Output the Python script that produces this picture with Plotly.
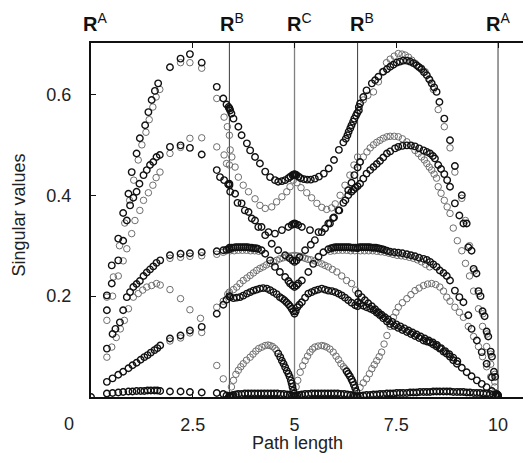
import plotly.graph_objects as go

# ---------------- data ----------------
# high-symmetry points on the path
sym_x = [0.0, 3.40, 5.00, 6.55, 10.0]
sym_lab = ["A", "B", "C", "B", "A"]
sym_lab_x = [0.10, 3.46, 5.12, 6.65, 9.99]
xtick_vals = [2.5, 5, 7.5, 10]
xtick_text = ["2.5", "5", "7.5", "10"]
ytick_vals = [0.2, 0.4, 0.6]
ytick_text = ["0.2", "0.4", "0.6"]

# ---- segment A -> B ----
a_zero_x = [0.00, 0.39, 0.53, 0.67, 0.79, 0.92, 1.02, 1.12, 1.22, 1.31, 1.39, 1.47, 1.56, 1.63, 1.70, 1.94, 2.20, 2.43, 2.72, 3.09, 3.25, 3.33, 3.40]
a_zero_y = [0.000, 0.007, 0.008, 0.009, 0.010, 0.011, 0.011, 0.012, 0.012, 0.012, 0.013, 0.013, 0.013, 0.013, 0.012, 0.011, 0.011, 0.010, 0.009, 0.008, 0.006, 0.003, 0.001]
a_lin_x = [0.39, 0.53, 0.67, 0.79, 0.92, 1.02, 1.12, 1.22, 1.31, 1.39, 1.47, 1.56, 1.63, 1.70, 1.94, 2.20, 2.43, 2.72, 3.09, 3.25, 3.33, 3.40]
a_lin_y = [0.030, 0.037, 0.044, 0.050, 0.057, 0.063, 0.068, 0.074, 0.079, 0.083, 0.088, 0.093, 0.097, 0.102, 0.116, 0.122, 0.132, 0.139, 0.165, 0.183, 0.193, 0.200]
a_lin_g_x = [1.94, 2.20, 2.43, 2.72, 3.09, 3.25, 3.36]
a_lin_g_y = [0.111, 0.117, 0.127, 0.128, 0.178, 0.190, 0.204]
a_mid_x = [0.39, 0.53, 0.60, 0.71, 0.79, 0.88, 0.96, 1.04, 1.12, 1.20, 1.29, 1.37, 1.45, 1.53, 1.61, 1.70, 1.94, 2.20, 2.43, 2.72, 3.09, 3.25, 3.33, 3.40]
a_mid_y = [0.096, 0.125, 0.135, 0.148, 0.172, 0.198, 0.208, 0.218, 0.224, 0.230, 0.240, 0.247, 0.253, 0.259, 0.266, 0.271, 0.281, 0.284, 0.285, 0.287, 0.289, 0.291, 0.292, 0.293]
a_flat_g_x = [1.94, 2.20, 2.43, 2.72, 3.09, 3.25, 3.33]
a_flat_g_y = [0.275, 0.277, 0.279, 0.280, 0.283, 0.287, 0.290]
a_mid_g_x = [0.39, 0.51, 0.62, 0.72, 0.82, 0.92, 1.04, 1.16, 1.27, 1.37, 1.49, 1.61, 1.70, 1.94, 2.20, 2.43, 2.69, 3.09, 3.25, 3.40]
a_mid_g_y = [0.079, 0.099, 0.118, 0.135, 0.152, 0.175, 0.198, 0.205, 0.212, 0.218, 0.221, 0.225, 0.222, 0.213, 0.195, 0.173, 0.156, 0.0625, 0.036, 0.002]
a_t1_x = [0.39, 0.51, 0.67, 0.79, 0.92, 1.00, 1.12, 1.20, 1.33, 1.41, 1.49, 1.57, 1.65, 1.94, 2.20, 2.43, 2.72, 3.09, 3.25, 3.33, 3.38, 3.40]
a_t1_y = [0.2015, 0.261, 0.314, 0.365, 0.403, 0.446, 0.483, 0.513, 0.539, 0.565, 0.589, 0.607, 0.622, 0.654, 0.671, 0.680, 0.663, 0.615, 0.592, 0.580, 0.575, 0.572]
a_t1_g_x = [0.39, 0.55, 0.70, 0.83, 0.95, 1.05, 1.16, 1.25, 1.35, 1.43, 1.52, 1.60, 1.69, 2.20, 2.43, 2.72, 3.09, 3.27, 3.35, 3.40]
a_t1_g_y = [0.198, 0.238, 0.300, 0.345, 0.390, 0.430, 0.470, 0.500, 0.525, 0.550, 0.575, 0.595, 0.610, 0.663, 0.663, 0.652, 0.592, 0.555, 0.536, 0.519]
a_t2_x = [0.39, 0.51, 0.67, 0.79, 0.88, 0.96, 1.04, 1.12, 1.19, 1.29, 1.37, 1.45, 1.53, 1.61, 1.69, 1.94, 2.20, 2.43, 2.72, 3.09, 3.17, 3.27, 3.37, 3.40]
a_t2_y = [0.172, 0.225, 0.271, 0.310, 0.350, 0.380, 0.395, 0.407, 0.423, 0.440, 0.450, 0.460, 0.466, 0.476, 0.480, 0.496, 0.499, 0.494, 0.481, 0.450, 0.436, 0.430, 0.422, 0.420]
a_t2_g_x = [0.39, 0.53, 0.67, 0.79, 0.88, 1.00, 1.08, 1.20, 1.29, 1.41, 1.52, 1.60, 1.695, 1.94, 2.20, 2.43, 2.72, 3.09, 3.27, 3.33, 3.40]
a_t2_g_y = [0.152, 0.200, 0.240, 0.270, 0.294, 0.324, 0.350, 0.370, 0.390, 0.405, 0.420, 0.435, 0.446, 0.483, 0.495, 0.513, 0.514, 0.496, 0.480, 0.463, 0.460]

# ---- segment B -> C -> B ----
m1_x = [3.40, 3.42, 3.45, 3.50, 3.62, 3.70, 3.83, 3.91, 4.03, 4.15, 4.28, 4.40, 4.52, 4.60, 4.69, 4.77, 4.85, 4.90, 4.95, 4.98, 5.00, 5.02, 5.05, 5.10, 5.15, 5.23, 5.31, 5.40, 5.50, 5.60, 5.72, 5.84, 5.97, 6.09, 6.20, 6.26, 6.30, 6.33, 6.37, 6.40, 6.44, 6.47, 6.51, 6.54, 6.58]
m1_y = [0.572, 0.568, 0.562, 0.552, 0.536, 0.519, 0.503, 0.489, 0.476, 0.463, 0.447, 0.436, 0.430, 0.427, 0.428, 0.430, 0.434, 0.437, 0.440, 0.441, 0.442, 0.441, 0.440, 0.437, 0.434, 0.432, 0.431, 0.431, 0.433, 0.437, 0.443, 0.453, 0.470, 0.490, 0.505, 0.512, 0.519, 0.526, 0.533, 0.539, 0.546, 0.552, 0.558, 0.563, 0.568]
m2_x = [3.40, 3.54, 3.70, 3.87, 4.03, 4.19, 4.36, 4.52, 4.69, 4.85, 4.93, 4.97, 5.00, 5.03, 5.09, 5.18, 5.38, 5.59, 5.75, 5.87, 5.97, 6.08, 6.20, 6.32, 6.40, 6.45, 6.50, 6.55]
m2_y = [0.423, 0.403, 0.384, 0.367, 0.350, 0.337, 0.327, 0.324, 0.331, 0.337, 0.341, 0.343, 0.344, 0.343, 0.341, 0.337, 0.331, 0.327, 0.334, 0.344, 0.356, 0.370, 0.385, 0.400, 0.407, 0.411, 0.415, 0.418]
m3_x = [3.42, 3.46, 3.54, 3.62, 3.74, 3.87, 4.03, 4.15, 4.28, 4.44, 4.56, 4.69, 4.81, 4.89, 4.97, 5.06, 5.16, 5.30, 5.42, 5.55, 5.67, 5.79, 5.91, 6.00, 6.12, 6.24, 6.36, 6.46, 6.55]
m3_y = [0.490, 0.476, 0.456, 0.436, 0.420, 0.407, 0.393, 0.380, 0.374, 0.377, 0.387, 0.397, 0.407, 0.417, 0.430, 0.425, 0.415, 0.405, 0.395, 0.384, 0.376, 0.372, 0.375, 0.383, 0.400, 0.420, 0.440, 0.460, 0.476]
m4_x = [3.42, 3.60, 3.78, 3.95, 4.11, 4.28, 4.44, 4.60, 4.77, 4.88, 4.95, 5.00, 5.05, 5.12, 5.26, 5.40, 5.50, 5.67, 5.83, 5.95, 6.10, 6.25, 6.32, 6.40, 6.47, 6.55, 6.61]
m4_y = [0.407, 0.385, 0.370, 0.354, 0.337, 0.321, 0.304, 0.291, 0.281, 0.275, 0.271, 0.268, 0.271, 0.277, 0.291, 0.302, 0.311, 0.327, 0.344, 0.355, 0.370, 0.390, 0.410, 0.425, 0.440, 0.455, 0.466]
m5_x = [3.40, 3.45, 3.50, 3.55, 3.60, 3.65, 3.70, 3.75, 3.80, 3.85, 3.90, 3.95, 4.00, 4.05, 4.10, 4.19, 4.28, 4.40, 4.52, 4.64, 4.77, 4.85, 4.89, 4.95, 5.00, 5.05, 5.09, 5.18, 5.34, 5.46, 5.59, 5.71, 5.83, 5.90, 5.95, 6.00, 6.05, 6.10, 6.15, 6.20, 6.25, 6.30, 6.35, 6.40, 6.45, 6.50, 6.55]
m5_y = [0.296, 0.296, 0.296, 0.297, 0.297, 0.297, 0.297, 0.297, 0.297, 0.297, 0.296, 0.296, 0.295, 0.295, 0.294, 0.291, 0.284, 0.271, 0.258, 0.248, 0.238, 0.230, 0.225, 0.221, 0.218, 0.221, 0.225, 0.231, 0.248, 0.264, 0.278, 0.287, 0.293, 0.295, 0.296, 0.297, 0.297, 0.297, 0.297, 0.297, 0.297, 0.297, 0.297, 0.296, 0.296, 0.296, 0.295]
m5_g_x = [3.42, 3.52, 3.62, 3.72, 3.82, 3.92, 4.02, 4.12, 5.88, 5.98, 6.08, 6.18, 6.28, 6.38, 6.48]
m5_g_y = [0.290, 0.290, 0.291, 0.291, 0.291, 0.290, 0.290, 0.289, 0.289, 0.290, 0.291, 0.291, 0.291, 0.290, 0.290]
m6_x = [3.40, 3.50, 3.58, 3.66, 3.74, 3.83, 3.91, 3.99, 4.07, 4.15, 4.23, 4.31, 4.40, 4.48, 4.56, 4.64, 4.72, 4.80, 4.86, 4.93, 5.00, 5.07, 5.14, 5.20, 5.26, 5.33, 5.40, 5.50, 5.58, 5.67, 5.75, 5.83, 5.93, 6.04, 6.16, 6.28, 6.40, 6.50, 6.57]
m6_y = [0.208, 0.213, 0.218, 0.225, 0.231, 0.236, 0.241, 0.246, 0.251, 0.255, 0.258, 0.262, 0.265, 0.268, 0.271, 0.274, 0.276, 0.278, 0.279, 0.280, 0.281, 0.280, 0.279, 0.277, 0.275, 0.273, 0.272, 0.270, 0.267, 0.264, 0.261, 0.258, 0.253, 0.248, 0.240, 0.231, 0.225, 0.212, 0.205]
m7_x = [3.42, 3.50, 3.58, 3.66, 3.74, 3.83, 3.91, 3.99, 4.07, 4.15, 4.23, 4.32, 4.40, 4.48, 4.56, 4.64, 4.70, 4.75, 4.80, 4.85, 4.89, 4.93, 4.97, 5.00, 5.03, 5.07, 5.12, 5.18, 5.26, 5.34, 5.42, 5.50, 5.58, 5.67, 5.75, 5.83, 5.92, 6.00, 6.08, 6.16, 6.24, 6.32, 6.40, 6.49, 6.55]
m7_y = [0.198, 0.196, 0.197, 0.198, 0.201, 0.205, 0.208, 0.211, 0.213, 0.215, 0.216, 0.215, 0.212, 0.208, 0.204, 0.198, 0.195, 0.192, 0.188, 0.184, 0.180, 0.175, 0.170, 0.165, 0.170, 0.178, 0.183, 0.188, 0.197, 0.205, 0.208, 0.211, 0.213, 0.215, 0.213, 0.211, 0.210, 0.208, 0.205, 0.2015, 0.197, 0.192, 0.187, 0.182, 0.180]
m8l_x = [3.45, 3.50, 3.56, 3.62, 3.68, 3.74, 3.82, 3.91, 3.98, 4.05, 4.12, 4.20, 4.28, 4.35, 4.40, 4.46, 4.52, 4.56, 4.60, 4.65, 4.69, 4.73, 4.77, 4.81, 4.85, 4.88, 4.91, 4.93, 4.95, 4.97, 4.99]
m8l_y = [0.020, 0.033, 0.045, 0.053, 0.060, 0.066, 0.073, 0.079, 0.085, 0.091, 0.096, 0.099, 0.102, 0.103, 0.102, 0.100, 0.096, 0.092, 0.086, 0.079, 0.072, 0.066, 0.059, 0.052, 0.046, 0.040, 0.033, 0.027, 0.020, 0.013, 0.007]
m8r_x = [5.04, 5.08, 5.14, 5.20, 5.26, 5.32, 5.38, 5.44, 5.50, 5.58, 5.67, 5.73, 5.79, 5.87, 5.95, 6.02, 6.08, 6.14, 6.20, 6.24, 6.28, 6.32, 6.36, 6.40, 6.43, 6.46, 6.49, 6.52]
m8r_y = [0.020, 0.033, 0.049, 0.062, 0.072, 0.081, 0.089, 0.095, 0.099, 0.101, 0.102, 0.101, 0.099, 0.095, 0.089, 0.081, 0.074, 0.066, 0.060, 0.056, 0.051, 0.046, 0.041, 0.035, 0.030, 0.024, 0.018, 0.011]
m_zero_x = [3.40, 3.43, 3.46, 3.50, 3.56, 3.62, 3.70, 3.78, 3.86, 3.94, 4.02, 4.10, 4.18, 4.26, 4.34, 4.42, 4.50, 4.58, 4.66, 4.74, 4.82, 4.88, 4.93, 4.97, 5.00, 5.03, 5.07, 5.12, 5.18, 5.26, 5.34, 5.42, 5.50, 5.58, 5.66, 5.74, 5.82, 5.90, 5.98, 6.06, 6.14, 6.22, 6.30, 6.38, 6.44, 6.48, 6.52, 6.55]
m_zero_y = [0.001, 0.002, 0.003, 0.004, 0.005, 0.006, 0.006, 0.007, 0.007, 0.007, 0.007, 0.007, 0.007, 0.007, 0.007, 0.007, 0.007, 0.007, 0.006, 0.006, 0.005, 0.004, 0.003, 0.002, 0.001, 0.002, 0.003, 0.004, 0.005, 0.006, 0.006, 0.007, 0.007, 0.007, 0.007, 0.007, 0.007, 0.007, 0.007, 0.007, 0.006, 0.006, 0.005, 0.004, 0.003, 0.002, 0.001, 0.001]

# ---- segment B -> A ----
r_top_x = [6.58, 6.61, 6.69, 6.77, 6.90, 6.98, 7.06, 7.18, 7.27, 7.35, 7.43, 7.51, 7.59, 7.67, 7.76, 7.84, 7.92, 8.00, 8.06, 8.12, 8.18, 8.25, 8.31, 8.37, 8.43, 8.49, 8.56, 8.68, 8.82, 8.94, 9.11, 9.23, 9.35, 9.47, 9.57, 9.67, 9.76, 9.85, 9.93, 10.0]
r_top_y = [0.575, 0.582, 0.595, 0.608, 0.622, 0.628, 0.635, 0.645, 0.650, 0.655, 0.659, 0.663, 0.665, 0.667, 0.667, 0.665, 0.662, 0.658, 0.654, 0.650, 0.644, 0.638, 0.630, 0.622, 0.614, 0.605, 0.585, 0.552, 0.509, 0.458, 0.400, 0.344, 0.290, 0.245, 0.200, 0.160, 0.120, 0.080, 0.040, 0.002]
r_top_g_x = [6.69, 6.80, 6.94, 7.06, 7.16, 7.26, 7.35, 7.45, 7.55, 7.64, 7.72, 7.80, 7.88, 7.96, 8.04, 8.12, 8.21, 8.33, 8.41, 8.53, 8.68, 8.82, 8.94, 9.11, 9.20, 9.30, 9.42, 9.53, 9.63, 9.73, 9.82, 9.92]
r_top_g_y = [0.589, 0.598, 0.605, 0.625, 0.645, 0.663, 0.670, 0.676, 0.681, 0.680, 0.678, 0.674, 0.668, 0.662, 0.655, 0.652, 0.645, 0.628, 0.610, 0.570, 0.536, 0.494, 0.446, 0.394, 0.350, 0.300, 0.250, 0.205, 0.165, 0.125, 0.085, 0.045]
r_arc2_x = [6.61, 6.69, 6.77, 6.86, 6.94, 7.02, 7.10, 7.18, 7.27, 7.35, 7.47, 7.55, 7.65, 7.76, 7.86, 7.96, 8.06, 8.17, 8.25, 8.33, 8.40, 8.45, 8.53, 8.60, 8.68, 8.75, 8.82, 8.94, 9.05, 9.15, 9.27, 9.40, 9.52, 9.62, 9.72, 9.82, 9.90, 10.0]
r_arc2_y = [0.423, 0.433, 0.443, 0.450, 0.456, 0.462, 0.468, 0.475, 0.483, 0.487, 0.493, 0.496, 0.498, 0.499, 0.499, 0.497, 0.493, 0.489, 0.486, 0.483, 0.478, 0.473, 0.460, 0.452, 0.442, 0.430, 0.417, 0.384, 0.360, 0.344, 0.297, 0.254, 0.210, 0.170, 0.130, 0.090, 0.050, 0.004]
r_arc2_g_x = [6.61, 6.69, 6.78, 6.86, 6.94, 7.02, 7.10, 7.18, 7.27, 7.35, 7.45, 7.55, 7.65, 7.76, 7.86, 7.96, 8.04, 8.12, 8.19, 8.25, 8.31, 8.37, 8.43, 8.49, 8.53, 8.60, 8.68, 8.75, 8.82, 8.90, 9.00, 9.11, 9.20, 9.30, 9.40, 9.52, 9.62, 9.72, 9.82, 9.92]
r_arc2_g_y = [0.466, 0.476, 0.486, 0.494, 0.500, 0.505, 0.509, 0.513, 0.516, 0.517, 0.517, 0.516, 0.512, 0.506, 0.498, 0.489, 0.483, 0.476, 0.470, 0.463, 0.456, 0.450, 0.442, 0.434, 0.417, 0.404, 0.390, 0.377, 0.364, 0.335, 0.310, 0.290, 0.265, 0.240, 0.210, 0.175, 0.140, 0.100, 0.065, 0.030]
r_flat_x = [6.55, 6.60, 6.65, 6.70, 6.75, 6.80, 6.85, 6.90, 6.95, 7.00, 7.05, 7.10, 7.15, 7.20, 7.27, 7.35, 7.45, 7.55, 7.65, 7.76, 7.86, 7.96, 8.06, 8.17, 8.25, 8.33, 8.41, 8.49, 8.57, 8.66, 8.74, 8.82, 8.94, 9.05, 9.15, 9.27, 9.35, 9.48, 9.60, 9.72, 9.85, 9.97]
r_flat_y = [0.296, 0.297, 0.297, 0.297, 0.297, 0.297, 0.297, 0.296, 0.296, 0.296, 0.295, 0.294, 0.293, 0.292, 0.290, 0.288, 0.287, 0.286, 0.285, 0.283, 0.281, 0.279, 0.276, 0.274, 0.272, 0.268, 0.263, 0.258, 0.251, 0.246, 0.240, 0.231, 0.211, 0.198, 0.188, 0.162, 0.135, 0.112, 0.089, 0.066, 0.039, 0.006]
r_flat_g_x = [6.62, 6.72, 6.82, 6.92, 7.02, 7.12, 7.22, 7.32, 7.42, 7.52, 7.62, 7.72, 7.82, 7.92, 8.02, 8.12, 8.22, 8.32]
r_flat_g_y = [0.290, 0.290, 0.290, 0.290, 0.289, 0.288, 0.287, 0.285, 0.283, 0.281, 0.280, 0.279, 0.277, 0.275, 0.272, 0.268, 0.263, 0.258]
r_lin_x = [6.55, 6.61, 6.69, 6.77, 6.86, 6.94, 7.02, 7.10, 7.18, 7.27, 7.35, 7.45, 7.55, 7.65, 7.76, 7.86, 7.96, 8.06, 8.17, 8.25, 8.33, 8.41, 8.49, 8.57, 8.66, 8.74, 8.82, 8.90, 8.99, 9.11, 9.23, 9.35, 9.48, 9.60, 9.72, 9.85, 9.97]
r_lin_y = [0.188, 0.185, 0.181, 0.178, 0.175, 0.172, 0.167, 0.162, 0.156, 0.150, 0.145, 0.141, 0.137, 0.133, 0.129, 0.125, 0.121, 0.117, 0.112, 0.110, 0.108, 0.104, 0.100, 0.096, 0.090, 0.086, 0.080, 0.073, 0.066, 0.058, 0.049, 0.041, 0.033, 0.026, 0.0195, 0.012, 0.005]
r_lin2_x = [6.57, 6.65, 6.73, 6.81, 6.90, 6.98, 7.06, 7.14, 7.22, 7.30, 7.40, 7.50, 7.60, 7.70, 7.80, 7.90, 8.00, 8.10, 8.20, 8.30, 8.40, 8.50, 8.60, 8.70, 8.80, 8.90, 9.00]
r_lin2_y = [0.205, 0.198, 0.192, 0.186, 0.180, 0.174, 0.168, 0.163, 0.158, 0.154, 0.149, 0.144, 0.140, 0.136, 0.132, 0.128, 0.124, 0.120, 0.116, 0.112, 0.108, 0.103, 0.097, 0.091, 0.085, 0.078, 0.071]
r_rise_g_x = [6.61, 6.69, 6.77, 6.84, 6.90, 6.96, 7.02, 7.08, 7.14, 7.20, 7.27, 7.35, 7.43, 7.49, 7.55, 7.65, 7.76, 7.86, 7.96, 8.06, 8.17, 8.27, 8.37, 8.47, 8.57, 8.66, 8.74, 8.82, 8.94, 9.05, 9.15, 9.27, 9.40, 9.52, 9.62, 9.72, 9.82, 9.92]
r_rise_g_y = [0.019, 0.028, 0.036, 0.046, 0.056, 0.064, 0.072, 0.080, 0.089, 0.105, 0.122, 0.140, 0.158, 0.168, 0.178, 0.187, 0.195, 0.203, 0.211, 0.216, 0.221, 0.224, 0.225, 0.223, 0.218, 0.210, 0.198, 0.190, 0.178, 0.168, 0.158, 0.140, 0.120, 0.100, 0.080, 0.060, 0.040, 0.020]
r_zero_x = [6.55, 6.61, 6.69, 6.77, 6.86, 6.94, 7.02, 7.10, 7.18, 7.27, 7.35, 7.43, 7.51, 7.59, 7.67, 7.76, 7.84, 7.92, 8.00, 8.08, 8.17, 8.25, 8.33, 8.41, 8.49, 8.57, 8.66, 8.74, 8.82, 8.90, 8.99, 9.07, 9.15, 9.23, 9.31, 9.40, 9.48, 9.56, 9.64, 9.72, 9.80, 9.88, 9.94, 10.0]
r_zero_y = [0.001, 0.002, 0.003, 0.004, 0.004, 0.005, 0.005, 0.006, 0.006, 0.007, 0.007, 0.007, 0.008, 0.008, 0.008, 0.008, 0.009, 0.009, 0.009, 0.010, 0.010, 0.010, 0.010, 0.011, 0.011, 0.011, 0.011, 0.011, 0.011, 0.010, 0.010, 0.010, 0.010, 0.009, 0.009, 0.008, 0.008, 0.008, 0.007, 0.007, 0.006, 0.005, 0.003, 0.001]

dark_sets = [
    (a_zero_x, a_zero_y), (a_lin_x, a_lin_y), (a_mid_x, a_mid_y), (a_t1_x, a_t1_y), (a_t2_x, a_t2_y),
    (m1_x, m1_y), (m2_x, m2_y), (m4_x, m4_y), (m5_x, m5_y), (m7_x, m7_y), (m_zero_x, m_zero_y),
    (m8l_x[18:], m8l_y[18:]), (m8r_x[20:], m8r_y[20:]),
    (r_top_x, r_top_y), (r_arc2_x, r_arc2_y), (r_flat_x, r_flat_y), (r_lin_x, r_lin_y), (r_lin2_x, r_lin2_y), (r_zero_x, r_zero_y),
]
gray_sets = [
    (a_lin_g_x, a_lin_g_y), (a_flat_g_x, a_flat_g_y), (a_mid_g_x, a_mid_g_y), (a_t1_g_x, a_t1_g_y), (a_t2_g_x, a_t2_g_y),
    (m3_x, m3_y), (m5_g_x, m5_g_y), (m6_x, m6_y), (m8l_x[:18], m8l_y[:18]), (m8r_x[:20], m8r_y[:20]),
    (r_top_g_x, r_top_g_y), (r_arc2_g_x, r_arc2_g_y), (r_flat_g_x, r_flat_g_y), (r_rise_g_x, r_rise_g_y),
]

FONT = "Liberation Sans, Arial, sans-serif"

fig = go.Figure()
for xs, ys in gray_sets:
    fig.add_trace(go.Scatter(x=xs, y=ys, mode="markers", showlegend=False, hoverinfo="x+y",
                             marker=dict(symbol="circle-open", size=6.5, color="#6e6e6e", line=dict(width=1.0))))
for xs, ys in dark_sets:
    fig.add_trace(go.Scatter(x=xs, y=ys, mode="markers", showlegend=False, hoverinfo="x+y",
                             marker=dict(symbol="circle-open", size=6.5, color="#111111", line=dict(width=1.4))))

shapes = []
for i, sx in enumerate(sym_x):
    if sx == 0.0:
        continue
    shapes.append(dict(type="line", xref="x", yref="paper", x0=sx, x1=sx, y0=0, y1=1,
                       line=dict(color="#808080" if sym_lab[i] == "C" else "#3a3a3a", width=1.3 if sym_lab[i] == "C" else 1),
                       layer="below"))

# plot area: 440 px wide, 354 px tall (page body adds an 8 px offset)
PLOT_W = 440.0
PLOT_H = 354.0
annotations = []
for lab, lx in zip(sym_lab, sym_lab_x):
    annotations.append(dict(x=lx, y=1, xref="x", yref="paper", yanchor="bottom", yshift=6,
                            text="<b>R</b><sup>%s</sup>" % lab, showarrow=False,
                            font=dict(family=FONT, size=20, color="#111")))
annotations.append(dict(x=-22 / PLOT_W, y=0, xref="paper", yref="paper", yanchor="middle", xanchor="center",
                        yshift=-27, text="0", showarrow=False, font=dict(family=FONT, size=18, color="#222")))
# axis titles
annotations.append(dict(x=206 / PLOT_W, y=-46 / PLOT_H, xref="paper", yref="paper", xanchor="center", yanchor="middle",
                        text="Path length", showarrow=False, font=dict(family=FONT, size=18, color="#222")))
annotations.append(dict(x=-73 / PLOT_W, y=181.5 / PLOT_H, xref="paper", yref="paper", xanchor="center", yanchor="middle",
                        text="Singular values", textangle=-90, showarrow=False, font=dict(family=FONT, size=18, color="#222")))

fig.update_layout(
    width=523, height=455,
    margin=dict(l=83, r=0, t=35, b=66, autoexpand=False),
    paper_bgcolor="white", plot_bgcolor="white",
    font=dict(family=FONT, size=18, color="#222"),
    shapes=shapes, annotations=annotations,
    xaxis=dict(range=[0, 10.81], tickvals=xtick_vals, ticktext=xtick_text, ticks="inside", ticklen=5,
               tickcolor="#111", showline=True, linecolor="#111", linewidth=2, mirror="ticks",
               showgrid=False, zeroline=False, ticklabelstandoff=10, automargin=False,
               tickfont=dict(size=18)),
    yaxis=dict(range=[0, 0.702], tickvals=ytick_vals, ticktext=ytick_text, ticks="inside", ticklen=5,
               tickcolor="#111", showline=True, linecolor="#111", linewidth=2,
               showgrid=False, zeroline=False, ticklabelstandoff=14, automargin=False,
               tickfont=dict(size=18)),
)

fig.write_html("out.html")
